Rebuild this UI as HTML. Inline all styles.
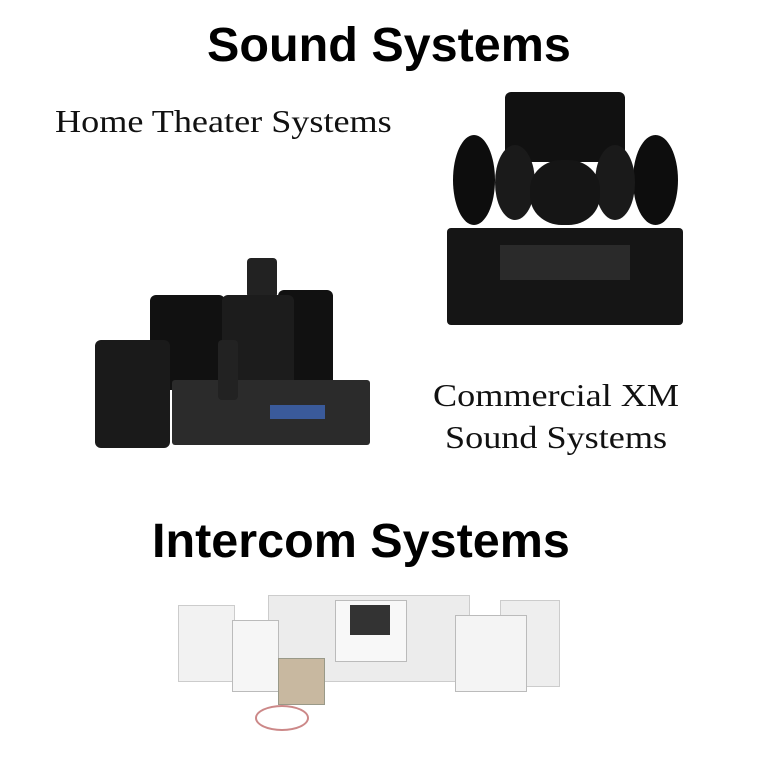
<!DOCTYPE html>
<html><head><meta charset="utf-8"><style>
body{margin:0;width:777px;height:757px;background:#fff;position:relative;overflow:hidden;font-family:"Liberation Sans",sans-serif}
.a{position:absolute}
.h{font-weight:bold;font-size:48.5px;color:#000;white-space:nowrap}
.s{font-family:"Liberation Serif",serif;font-size:32px;color:#111;white-space:nowrap;transform:scaleX(1.13);transform-origin:0 0}
.blk{background:#111;border-radius:6px}
</style></head><body>
<div class="a h" style="left:207px;top:17px">Sound Systems</div>
<div class="a s" style="left:55px;top:103px">Home Theater Systems</div>
<div class="a s" style="left:433px;top:377px">Commercial XM</div>
<div class="a s" style="left:445px;top:419px">Sound Systems</div>
<div class="a h" style="left:152px;top:513px">Intercom Systems</div>

<!-- home theater -->
<div class="a blk" style="left:505px;top:92px;width:120px;height:70px"></div>
<div class="a" style="left:453px;top:135px;width:42px;height:90px;background:#0d0d0d;border-radius:50%"></div>
<div class="a" style="left:633px;top:135px;width:45px;height:90px;background:#0d0d0d;border-radius:50%"></div>
<div class="a" style="left:495px;top:145px;width:40px;height:75px;background:#1a1a1a;border-radius:50%"></div>
<div class="a" style="left:595px;top:145px;width:40px;height:75px;background:#1a1a1a;border-radius:50%"></div>
<div class="a" style="left:530px;top:160px;width:70px;height:65px;background:#151515;border-radius:45%"></div>
<div class="a" style="left:447px;top:228px;width:236px;height:97px;background:#151515;border-radius:4px"></div>
<div class="a" style="left:500px;top:245px;width:130px;height:35px;background:#2a2a2a"></div>

<!-- commercial -->
<div class="a" style="left:247px;top:258px;width:30px;height:40px;background:#222;border-radius:4px"></div>
<div class="a blk" style="left:150px;top:295px;width:75px;height:95px"></div>
<div class="a blk" style="left:278px;top:290px;width:55px;height:100px"></div>
<div class="a blk" style="left:222px;top:295px;width:72px;height:95px;background:#1c1c1c"></div>
<div class="a blk" style="left:95px;top:340px;width:75px;height:108px;background:#1a1a1a"></div>
<div class="a" style="left:172px;top:380px;width:198px;height:65px;background:#2b2b2b;border-radius:3px"></div>
<div class="a" style="left:218px;top:340px;width:20px;height:60px;background:#222;border-radius:4px"></div>
<div class="a" style="left:270px;top:405px;width:55px;height:14px;background:#3a5a9a"></div>

<!-- intercom -->
<div class="a" style="left:268px;top:595px;width:200px;height:85px;background:#ececec;border:1px solid #ccc"></div>
<div class="a" style="left:335px;top:600px;width:70px;height:60px;background:#f8f8f8;border:1px solid #bbb"></div>
<div class="a" style="left:350px;top:605px;width:40px;height:30px;background:#333"></div>
<div class="a" style="left:178px;top:605px;width:55px;height:75px;background:#f2f2f2;border:1px solid #ccc"></div>
<div class="a" style="left:232px;top:620px;width:45px;height:70px;background:#f6f6f6;border:1px solid #bbb"></div>
<div class="a" style="left:278px;top:658px;width:45px;height:45px;background:#c8b8a0;border:1px solid #998"></div>
<div class="a" style="left:500px;top:600px;width:58px;height:85px;background:#eee;border:1px solid #ccc"></div>
<div class="a" style="left:455px;top:615px;width:70px;height:75px;background:#f4f4f4;border:1px solid #bbb"></div>
<div class="a" style="left:255px;top:705px;width:50px;height:22px;border:2px solid #c88;border-radius:50%"></div>
</body></html>
